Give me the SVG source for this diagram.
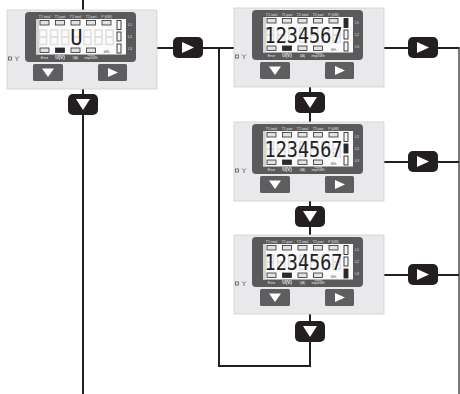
<svg xmlns="http://www.w3.org/2000/svg" width="460" height="394" viewBox="0 0 460 394">
<style>
.case{fill:#e9e9eb;stroke:#cfcfd2;stroke-width:0.8}
.screen{fill:#5a5a5c}
.lcd{fill:#fbfbfb}
.lcdEdge{fill:#d4d4d6}
.ind{fill:#e2e2e2;stroke:#2e2e2e;stroke-width:0.8}
.indOn{fill:#2a2a2a;stroke:#2a2a2a;stroke-width:0.8}
.bar{fill:#f4f4f4;stroke:#2e2e2e;stroke-width:0.9}
.barOn{fill:#2a2a2a;stroke:#2a2a2a;stroke-width:0.9}
.lbl{font-family:"Liberation Sans",Arial,sans-serif;font-size:3.4px;fill:#e4e4e4;text-anchor:middle}
.lblB{font-family:"Liberation Sans",Arial,sans-serif;font-size:4.6px;font-weight:bold;fill:#f0f0f0;text-anchor:middle}
.kwh{font-family:"Liberation Sans",Arial,sans-serif;font-size:2.8px;fill:#444;text-anchor:middle}
.dig{font-family:"DejaVu Sans Mono",monospace;font-size:20.5px;fill:#1e1e1e}
.ghost{fill:none;stroke:#e0e0e0;stroke-width:1.6}
.gbtn{fill:#5e5e60}
.tri{fill:#ffffff}
.icon{fill:none;stroke:#555;stroke-width:0.8}
.line{fill:none;stroke:#231f20;stroke-width:2}
.thin{fill:none;stroke:#231f20;stroke-width:1.2}
.kbtn{fill:#231f20}
</style>
<defs>
<g id="ghosts">
<rect class="ghost" x="32.5" y="20" width="7" height="7"/><rect class="ghost" x="32.5" y="27" width="7" height="7.5"/>
<rect class="ghost" x="43.6" y="20" width="7" height="7"/><rect class="ghost" x="43.6" y="27" width="7" height="7.5"/>
<rect class="ghost" x="54.7" y="20" width="7" height="7"/><rect class="ghost" x="54.7" y="27" width="7" height="7.5"/>
<rect class="ghost" x="65.8" y="20" width="7" height="7"/><rect class="ghost" x="65.8" y="27" width="7" height="7.5"/>
<rect class="ghost" x="76.9" y="20" width="7" height="7"/><rect class="ghost" x="76.9" y="27" width="7" height="7.5"/>
<rect class="ghost" x="88" y="20" width="7" height="7"/><rect class="ghost" x="88" y="27" width="7" height="7.5"/>
<rect class="ghost" x="99.1" y="20" width="7" height="7"/><rect class="ghost" x="99.1" y="27" width="7" height="7.5"/>
</g>
<g id="body">
<rect class="case" x="0" y="0" width="150" height="79"/>
<rect class="screen" x="18" y="2" width="111" height="50" rx="4"/>
<rect class="lcd" x="29" y="9" width="90" height="35.5"/>
<rect class="lcdEdge" x="29" y="9" width="3" height="35.5"/>
<rect class="ind" x="33" y="10.5" width="9" height="4.5"/>
<rect class="ind" x="48.5" y="10.5" width="9" height="4.5"/>
<rect class="ind" x="64" y="10.5" width="9" height="4.5"/>
<rect class="ind" x="79.5" y="10.5" width="9" height="4.5"/>
<rect class="ind" x="95" y="10.5" width="9" height="4.5"/>
<rect class="ind" x="33" y="38" width="9" height="4.5"/>
<rect class="indOn" x="48.5" y="38" width="9" height="4.5"/>
<rect class="ind" x="64" y="38" width="9" height="4.5"/>
<rect class="ind" x="79.5" y="38" width="9" height="4.5"/>
<rect class="icon" x="1.5" y="47" width="3" height="3"/>
<path class="icon" d="M8,46.5 L10,48.5 L12,46.5 M10,48.5 V51"/>
<rect class="gbtn" x="26" y="54" width="30" height="17" rx="1.5"/>
<rect class="gbtn" x="91" y="54" width="29" height="17" rx="1.5"/>
<polygon class="tri" points="35,58.5 47,58.5 41,67"/>
<polygon class="tri" points="101,58 101,67 111,62.5"/>
</g>
</defs>

<g id="connectors">
<line class="line" x1="83" y1="0" x2="83" y2="10"/>
<line class="line" x1="83" y1="89" x2="83" y2="394"/>
<line class="line" x1="157" y1="48" x2="234" y2="48"/>
<polyline class="line" points="219,48 219,366 310,366 310,314"/>
<line class="line" x1="310" y1="87" x2="310" y2="122"/>
<line class="line" x1="310" y1="201" x2="310" y2="235"/>
<line class="line" x1="384" y1="48" x2="459" y2="48"/>
<line class="line" x1="384" y1="162" x2="459" y2="162"/>
<line class="line" x1="384" y1="275" x2="459" y2="275"/>
<line class="thin" x1="459" y1="47" x2="459" y2="394"/>
<rect class="kbtn" x="68" y="94" width="30" height="21" rx="5"/>
<polygon class="tri" points="76,99 90,99 83,110"/>
<rect class="kbtn" x="173" y="37" width="30" height="21" rx="5"/>
<polygon class="tri" points="182,42 182,53 194,47.5"/>
<rect class="kbtn" x="295" y="92" width="30" height="21" rx="5"/>
<polygon class="tri" points="303,97 317,97 310,108"/>
<rect class="kbtn" x="295" y="206" width="30" height="21" rx="5"/>
<polygon class="tri" points="303,211 317,211 310,222"/>
<rect class="kbtn" x="295" y="321" width="30" height="21" rx="5"/>
<polygon class="tri" points="303,326 317,326 310,337"/>
<rect class="kbtn" x="408" y="37" width="30" height="21" rx="5"/>
<polygon class="tri" points="417,42 417,53 429,47.5"/>
<rect class="kbtn" x="408" y="151" width="30" height="21" rx="5"/>
<polygon class="tri" points="417,156 417,167 429,161.5"/>
<rect class="kbtn" x="408" y="264" width="30" height="21" rx="5"/>
<polygon class="tri" points="417,269 417,280 429,274.5"/>
</g>

<g id="panel1" transform="translate(7,10)">
<use href="#body"/>
<use href="#ghosts"/>
<text class="dig" x="69.3" y="34.5" text-anchor="middle">U</text>
<rect class="bar" x="110" y="10.5" width="4" height="9"/>
<rect class="bar" x="110" y="22" width="4" height="9"/>
<rect class="bar" x="110" y="34" width="4" height="9"/>
<text class="lbl" x="37.5" y="7.5">T1 total</text><text class="lbl" x="53" y="7.5">T1 part</text><text class="lbl" x="68.5" y="7.5">T2 total</text><text class="lbl" x="84" y="7.5">T2 part</text><text class="lbl" x="99.5" y="7.5">P (kW)</text>
<text class="lbl" x="123" y="16">L1</text><text class="lbl" x="123" y="28">L2</text><text class="lbl" x="123" y="40">L3</text>
<text class="kwh" x="99.5" y="43">kWh</text>
<text class="lbl" x="37.5" y="49">Error</text><text class="lblB" x="53" y="49.3">U(V)</text><text class="lbl" x="68.5" y="49">I(A)</text><text class="lbl" x="84" y="45.6">1000</text><text class="lbl" x="84" y="49">imp/kWh</text>
</g>

<g id="panel2" transform="translate(234,8)">
<use href="#body"/>
<use href="#ghosts"/>
<text class="dig" x="30.5" y="34.5" textLength="78" lengthAdjust="spacingAndGlyphs">1234567</text>
<rect class="barOn" x="110" y="10.5" width="4" height="9"/>
<rect class="bar" x="110" y="22" width="4" height="9"/>
<rect class="bar" x="110" y="34" width="4" height="9"/>
<text class="lbl" x="37.5" y="7.5">T1 total</text><text class="lbl" x="53" y="7.5">T1 part</text><text class="lbl" x="68.5" y="7.5">T2 total</text><text class="lbl" x="84" y="7.5">T2 part</text><text class="lbl" x="99.5" y="7.5">P (kW)</text>
<text class="lbl" x="123" y="16">L1</text><text class="lbl" x="123" y="28">L2</text><text class="lbl" x="123" y="40">L3</text>
<text class="kwh" x="99.5" y="43">kWh</text>
<text class="lbl" x="37.5" y="49">Error</text><text class="lblB" x="53" y="49.3">U(V)</text><text class="lbl" x="68.5" y="49">I(A)</text><text class="lbl" x="84" y="45.6">1000</text><text class="lbl" x="84" y="49">imp/kWh</text>
</g>

<g id="panel3" transform="translate(234,122)">
<use href="#body"/>
<use href="#ghosts"/>
<text class="dig" x="30.5" y="34.5" textLength="78" lengthAdjust="spacingAndGlyphs">1234567</text>
<rect class="bar" x="110" y="10.5" width="4" height="9"/>
<rect class="barOn" x="110" y="22" width="4" height="9"/>
<rect class="bar" x="110" y="34" width="4" height="9"/>
<text class="lbl" x="37.5" y="7.5">T1 total</text><text class="lbl" x="53" y="7.5">T1 part</text><text class="lbl" x="68.5" y="7.5">T2 total</text><text class="lbl" x="84" y="7.5">T2 part</text><text class="lbl" x="99.5" y="7.5">P (kW)</text>
<text class="lbl" x="123" y="16">L1</text><text class="lbl" x="123" y="28">L2</text><text class="lbl" x="123" y="40">L3</text>
<text class="kwh" x="99.5" y="43">kWh</text>
<text class="lbl" x="37.5" y="49">Error</text><text class="lblB" x="53" y="49.3">U(V)</text><text class="lbl" x="68.5" y="49">I(A)</text><text class="lbl" x="84" y="45.6">1000</text><text class="lbl" x="84" y="49">imp/kWh</text>
</g>

<g id="panel4" transform="translate(234,235)">
<use href="#body"/>
<use href="#ghosts"/>
<text class="dig" x="30.5" y="34.5" textLength="78" lengthAdjust="spacingAndGlyphs">1234567</text>
<rect class="bar" x="110" y="10.5" width="4" height="9"/>
<rect class="bar" x="110" y="22" width="4" height="9"/>
<rect class="barOn" x="110" y="34" width="4" height="9"/>
<text class="lbl" x="37.5" y="7.5">T1 total</text><text class="lbl" x="53" y="7.5">T1 part</text><text class="lbl" x="68.5" y="7.5">T2 total</text><text class="lbl" x="84" y="7.5">T2 part</text><text class="lbl" x="99.5" y="7.5">P (kW)</text>
<text class="lbl" x="123" y="16">L1</text><text class="lbl" x="123" y="28">L2</text><text class="lbl" x="123" y="40">L3</text>
<text class="kwh" x="99.5" y="43">kWh</text>
<text class="lbl" x="37.5" y="49">Error</text><text class="lblB" x="53" y="49.3">U(V)</text><text class="lbl" x="68.5" y="49">I(A)</text><text class="lbl" x="84" y="45.6">1000</text><text class="lbl" x="84" y="49">imp/kWh</text>
</g>
</svg>
